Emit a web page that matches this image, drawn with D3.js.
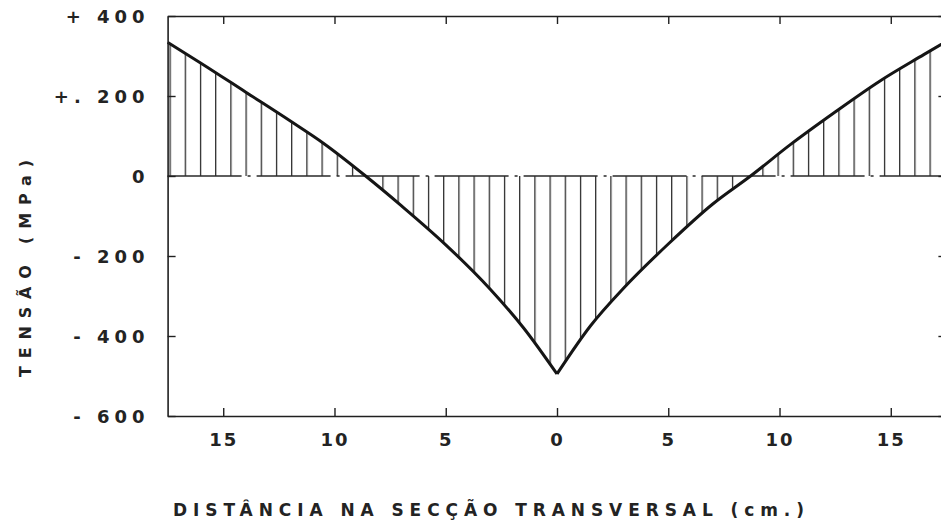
<!DOCTYPE html>
<html>
<head>
<meta charset="utf-8">
<script src="https://cdn.jsdelivr.net/npm/d3@7"></script>
<style>
  html, body { margin: 0; padding: 0; background: #fff; }
  svg { display: block; }
  text { font-family: "DejaVu Sans", sans-serif; fill: #232323; }
</style>
</head>
<body>
<svg id="chart" width="941" height="523"></svg>
<script>
// Residual stress across the cross-section (left half, then right half)
const leftPos  = [-17.5, -16, -14, -12, -10.5, -8.6, -7, -5, -3, -1.5, 0];
const leftVal  = [334, 282, 210, 138, 82, 0, -74, -172, -283, -380, -495];
const rightPos = [0, 1.5, 3, 5, 7, 8.7, 10.5, 12.5, 14.5, 16.5, 17.5];
const rightVal = [-495, -375, -280, -170, -70, 0, 79, 160, 237, 304, 337];

// Axis ticks and labels
const xTicks = [-15, -10, -5, 0, 5, 10, 15];
const xTickLabels = ["15", "10", "5", "0", "5", "10", "15"];
const yTicks = [400, 200, 0, -200, -400, -600];
const yTickLabels = ["+ 400", "+. 200", "0", "- 200", "- 400", "- 600"];

const xTitle = "DISTÂNCIA NA SECÇÃO TRANSVERSAL (cm.)";
const yTitle = "TENSÃO (MPa)";

const svg = d3.select("#chart");
const x = d3.scaleLinear().domain([-17.5, 17.5]).range([167.6, 946.4]);
const y = d3.scaleLinear().domain([-600, 400]).range([416, 16]);

const left = leftPos.map((p, i) => ({ p, v: leftVal[i] }));
const right = rightPos.map((p, i) => ({ p, v: rightVal[i] }));

// vertical hatching pattern, one line every 15.2 px, phased on the centre
const hatchStep = 15.2;
const defs = svg.append("defs");
const pat = defs.append("pattern")
  .attr("id", "hatch")
  .attr("patternUnits", "userSpaceOnUse")
  .attr("x", (x(0) - 7.5) % hatchStep)
  .attr("y", 0)
  .attr("width", hatchStep)
  .attr("height", 600);
pat.append("line")
  .attr("x1", 0.6).attr("x2", 0.6).attr("y1", 0).attr("y2", 600)
  .attr("stroke", "#262626").attr("stroke-width", 1.3);

const area = d3.area()
  .x(d => x(d.p)).y0(y(0)).y1(d => y(d.v))
  .curve(d3.curveMonotoneX);
[left, right].forEach(seg => {
  svg.append("path").datum(seg).attr("d", area).attr("fill", "url(#hatch)");
});

// zero line, drawn as a long dash-dot line
svg.append("line")
  .attr("x1", x(-17.5)).attr("x2", x(17.5))
  .attr("y1", y(0)).attr("y2", y(0))
  .attr("stroke", "#2a2a2a").attr("stroke-width", 1.4)
  .attr("stroke-dasharray", "74,6,3,6");

// stress curve
const line = d3.line().x(d => x(d.p)).y(d => y(d.v)).curve(d3.curveMonotoneX);
[left, right].forEach(seg => {
  svg.append("path").datum(seg).attr("d", line)
    .attr("fill", "none").attr("stroke", "#151515")
    .attr("stroke-width", 3).attr("stroke-linejoin", "round");
});

// frame and ticks (all ticks point inwards)
function styleAxis(g) {
  g.selectAll(".domain").attr("stroke", "#202020").attr("stroke-width", 1.6);
  g.selectAll(".tick line").attr("stroke", "#202020").attr("stroke-width", 1.4);
}
const gx = svg.append("g").attr("transform", `translate(0,${y(-600)})`)
  .call(d3.axisBottom(x).tickValues(xTicks).tickSizeInner(-8).tickSizeOuter(0)
    .tickFormat((d, i) => xTickLabels[i]));
styleAxis(gx);
gx.selectAll(".tick text")
  .attr("y", 24).attr("dy", "0.35em")
  .style("font-size", "18px").style("font-weight", "600")
  .style("letter-spacing", "2px").style("fill", "#232323");

const gt = svg.append("g").attr("transform", `translate(0,${y(400)})`)
  .call(d3.axisTop(x).tickValues(xTicks).tickSizeInner(-8).tickSizeOuter(0).tickFormat(""));
styleAxis(gt);

const gy = svg.append("g").attr("transform", `translate(${x(-17.5)},0)`)
  .call(d3.axisLeft(y).tickValues(yTicks).tickSizeInner(-8).tickSizeOuter(0)
    .tickFormat((d, i) => yTickLabels[i]));
styleAxis(gy);
gy.selectAll(".tick text")
  .attr("x", -18).attr("dy", "0.35em")
  .style("font-size", "18px").style("font-weight", "600")
  .style("letter-spacing", "5px").style("fill", "#232323");

const gr = svg.append("g").attr("transform", `translate(${x(17.5)},0)`)
  .call(d3.axisRight(y).tickValues(yTicks).tickSizeInner(-8).tickSizeOuter(0).tickFormat(""));
styleAxis(gr);

// axis titles
svg.append("text")
  .attr("x", 173).attr("y", 510).attr("dy", "0.35em")
  .attr("textLength", 631).attr("lengthAdjust", "spacing")
  .style("font-size", "17px").style("font-weight", "600")
  .text(xTitle);

svg.append("text")
  .attr("transform", "translate(25,377) rotate(-90)")
  .attr("dy", "0.35em")
  .attr("textLength", 217).attr("lengthAdjust", "spacing")
  .style("font-size", "16px").style("font-weight", "bold")
  .text(yTitle);
</script>
</body>
</html>
